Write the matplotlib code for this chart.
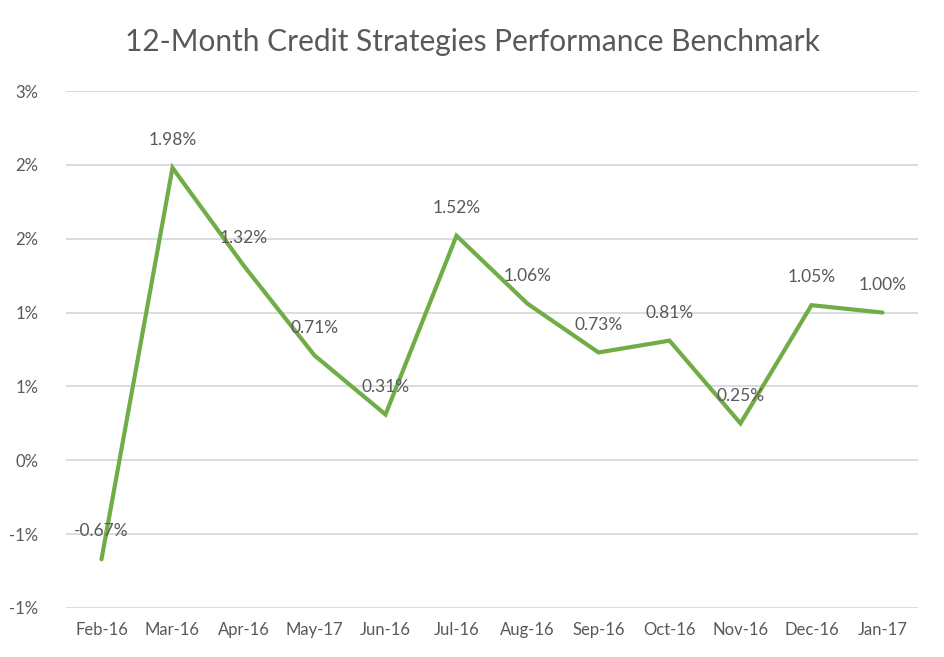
import matplotlib.pyplot as plt

plt.rcParams['font.family'] = ['Lato', 'DejaVu Sans']

months = ['Feb-16', 'Mar-16', 'Apr-16', 'May-17', 'Jun-16', 'Jul-16',
          'Aug-16', 'Sep-16', 'Oct-16', 'Nov-16', 'Dec-16', 'Jan-17']
returns = [-0.67, 1.98, 1.32, 0.71, 0.31, 1.52, 1.06, 0.73, 0.81, 0.25, 1.05, 1.00]

# excel rounds the 0.5% steps to whole percents
y_ticks = [-1.0, -0.5, 0.0, 0.5, 1.0, 1.5, 2.0, 2.5]
y_tick_labels = ['-1%', '-1%', '0%', '1%', '1%', '2%', '2%', '3%']

GREEN = '#70AD47'
GREY = '#595959'

fig = plt.figure(figsize=(9.45, 6.57), dpi=100)
ax = fig.add_axes([66 / 945, 1 - 608 / 657, 852 / 945, 517 / 657])

x = list(range(len(months)))
ax.plot(x, returns, color=GREEN, linewidth=3, solid_capstyle='round',
        solid_joinstyle='miter', zorder=3)

for xi, v in zip(x, returns):
    ax.annotate(f'{v:.2f}%', (xi, v), xytext=(0, 20), textcoords='offset points',
                ha='center', va='center', fontsize=12.5, color=GREY, zorder=4)

ax.set_xlim(-0.5, len(months) - 0.5)
ax.set_ylim(-1.0, 2.5)
ax.set_yticks(y_ticks)
ax.set_yticklabels(y_tick_labels)
ax.set_xticks(x)
ax.set_xticklabels(months)
ax.tick_params(axis='both', length=0, labelsize=12, labelcolor=GREY)
ax.tick_params(axis='y', pad=20)
ax.tick_params(axis='x', pad=10)
ax.grid(axis='y', color='#D9D9D9', linewidth=1.3)
ax.set_axisbelow(True)
for s in ax.spines.values():
    s.set_visible(False)

fig.text(0.5, 1 - 42 / 657, '12-Month Credit Strategies Performance Benchmark',
         ha='center', va='center', fontsize=21.5, color=GREY)

fig.savefig('out.png', dpi=100)
